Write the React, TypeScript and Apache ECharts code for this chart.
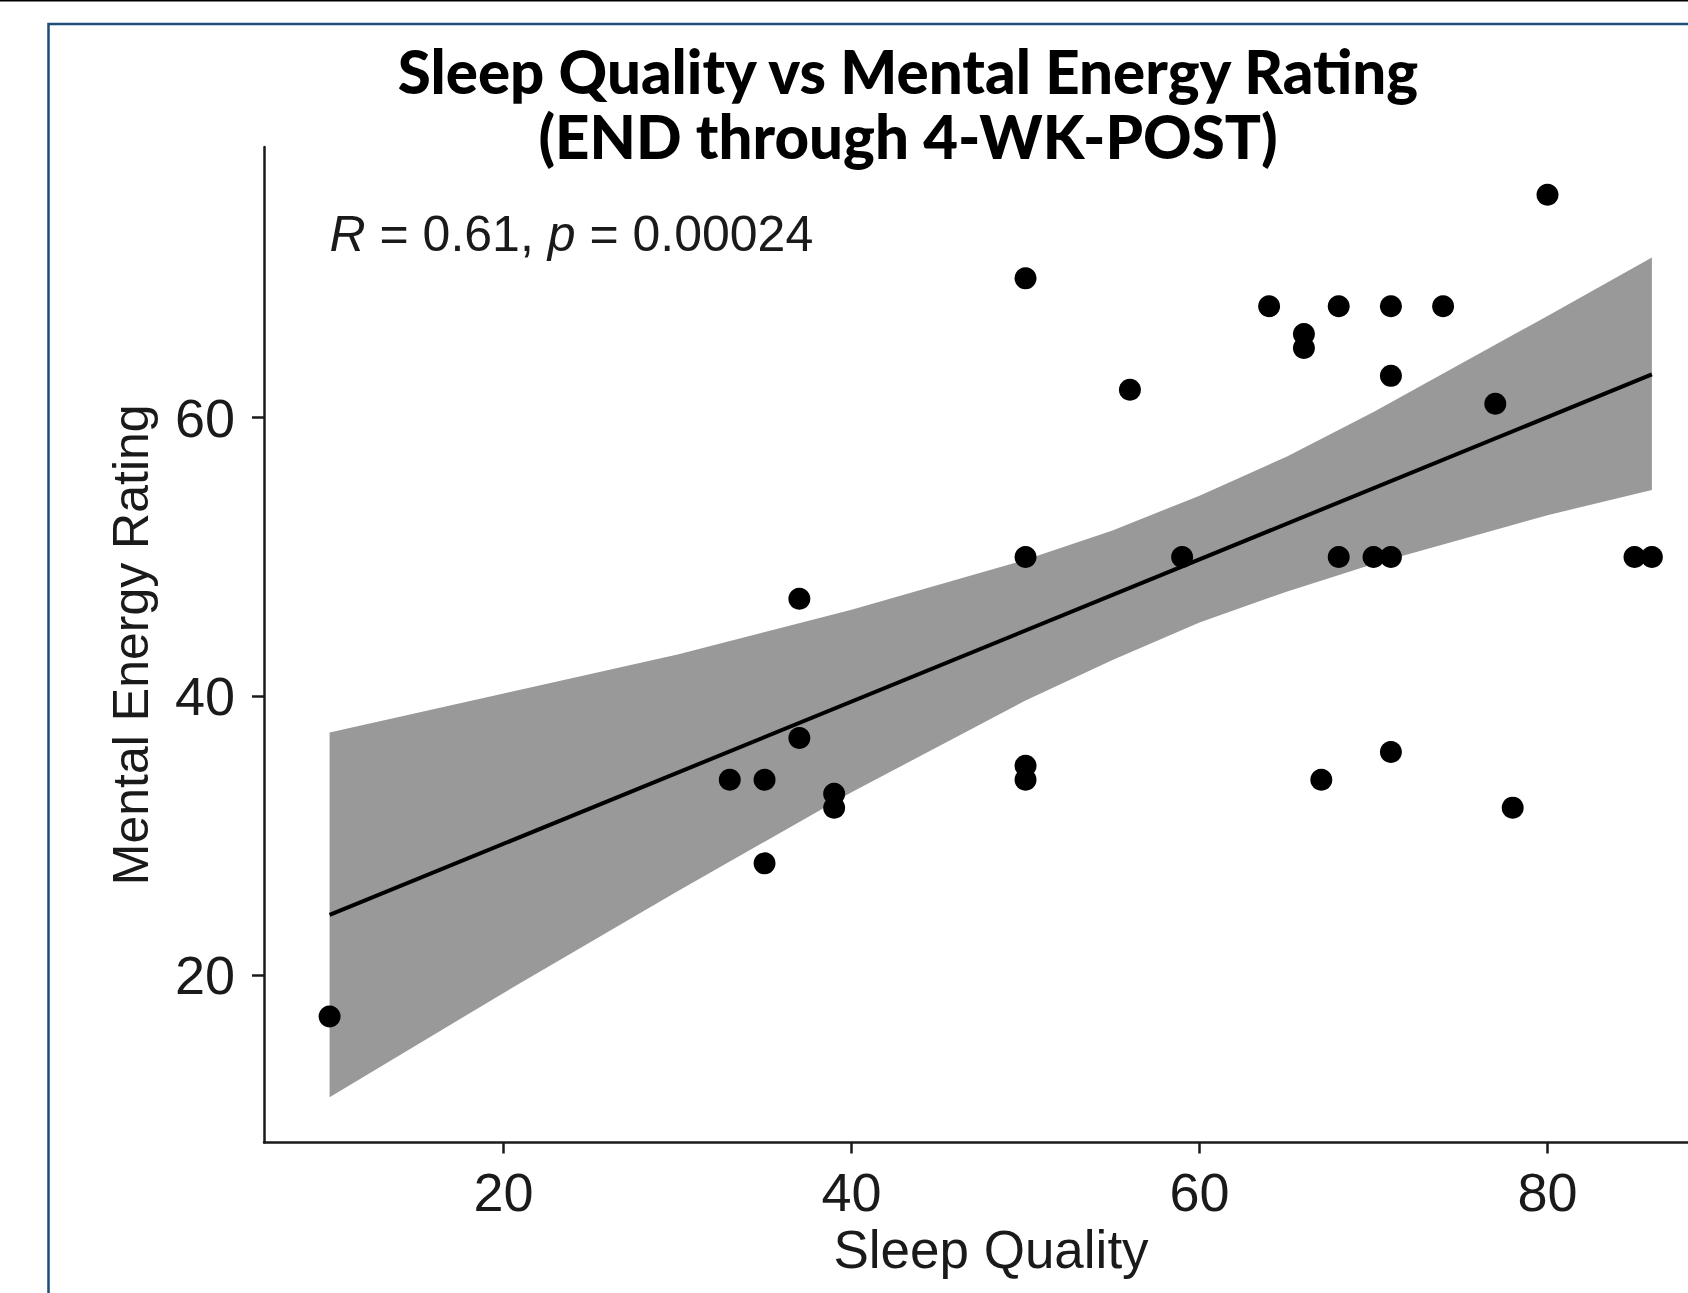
import React, { useEffect, useRef } from "react";
import * as echarts from "echarts";

// Scatter points (Sleep Quality, Mental Energy Rating)
const sleepQuality = [10, 33, 35, 35, 37, 37, 39, 39, 50, 50, 50, 50, 56, 59, 64, 66, 66, 67, 68, 68, 70, 71, 71, 71, 71, 74, 77, 78, 80, 85, 86];
const mentalEnergy = [17, 34, 34, 28, 37, 47, 33, 32, 70, 50, 35, 34, 62, 50, 68, 66, 65, 34, 68, 50, 50, 68, 63, 50, 36, 68, 61, 32, 76, 50, 50];

// Fitted line
const fitX = [10, 86];
const fitY = [24.3, 63.1];

// Confidence band
const bandX = [10, 20, 30, 40, 50, 55, 60, 65, 70, 80, 86];
const bandUpper = [37.4, 40.2, 43.0, 46.2, 49.8, 51.9, 54.4, 57.2, 60.4, 67.3, 71.5];
const bandLower = [11.2, 18.7, 26.0, 33.1, 39.7, 42.6, 45.3, 47.5, 49.5, 53.0, 54.8];

const xTicks = [20, 40, 60, 80];
const yTicks = [20, 40, 60];

const titleLine1 = "Sleep Quality vs Mental Energy Rating";
const titleLine2 = "(END through 4-WK-POST)";
const xName = "Sleep Quality";
const yName = "Mental Energy Rating";

export default function App() {
  const ref = useRef<HTMLDivElement>(null);

  useEffect(() => {
    if (!ref.current) return;
    const chart = echarts.init(ref.current, undefined, { renderer: "svg" });
    const axisFont = "'Liberation Sans', Arial, sans-serif";
    const points = sleepQuality.map((x, i) => [x, mentalEnergy[i]]);
    const fit = fitX.map((x, i) => [x, fitY[i]]);

    chart.setOption({
      animation: false,
      backgroundColor: "#ffffff",
      grid: { left: 264, right: 2, top: 147, bottom: 150.5, containLabel: false },
      xAxis: {
        type: "value",
        min: 6.23,
        max: 89.8,
        name: xName,
        nameLocation: "middle",
        nameGap: 80,
        nameTextStyle: { fontFamily: axisFont, fontSize: 53, color: "#1a1a1a" },
        axisLine: { show: true, lineStyle: { color: "#1a1a1a", width: 2.5 } },
        axisTick: { show: true, length: 11, customValues: xTicks, lineStyle: { color: "#1a1a1a", width: 2.5 } },
        axisLabel: { customValues: xTicks, margin: 22, fontFamily: axisFont, fontSize: 54, color: "#1a1a1a" },
        splitLine: { show: false },
      },
      yAxis: {
        type: "value",
        min: 7.96,
        max: 79.43,
        name: yName,
        nameLocation: "middle",
        nameGap: 108,
        nameTextStyle: { fontFamily: axisFont, fontSize: 50, color: "#1a1a1a" },
        axisLine: { show: true, lineStyle: { color: "#1a1a1a", width: 2.5 } },
        axisTick: { show: true, length: 12, customValues: yTicks, lineStyle: { color: "#1a1a1a", width: 2.5 } },
        axisLabel: { customValues: yTicks, margin: 29, fontFamily: axisFont, fontSize: 54, color: "#1a1a1a" },
        splitLine: { show: false },
      },
      graphic: [
        { type: "rect", shape: { x: 0, y: 0, width: 1720, height: 1.5 }, style: { fill: "#000000" }, z: 100 },
        {
          type: "rect",
          shape: { x: 48.5, y: 24, width: 3000, height: 3000 },
          style: { fill: "none", stroke: "#1f4e79", lineWidth: 2.5 },
          z: 100,
        },
        {
          type: "text",
          x: 908,
          y: 71,
          style: {
            text: titleLine1,
            fontFamily: "Lato, 'Open Sans', sans-serif",
            fontWeight: 900,
            fontSize: 60,
            fill: "#000000",
            align: "center",
            verticalAlign: "middle",
          },
          z: 100,
        },
        {
          type: "text",
          x: 908,
          y: 136,
          style: {
            text: titleLine2,
            fontFamily: "Lato, 'Open Sans', sans-serif",
            fontWeight: 900,
            fontSize: 60,
            fill: "#000000",
            align: "center",
            verticalAlign: "middle",
          },
          z: 100,
        },
        {
          type: "text",
          x: 329.5,
          y: 234,
          style: {
            text: "{i|R} = 0.61, {i|p} = 0.00024",
            fontFamily: axisFont,
            fontSize: 50,
            fill: "#1a1a1a",
            align: "left",
            verticalAlign: "middle",
            rich: {
              i: { fontStyle: "italic", fontFamily: axisFont, fontSize: 50, fill: "#1a1a1a" },
            },
          },
          z: 100,
        },
      ],
      series: [
        {
          type: "custom",
          z: 1,
          silent: true,
          data: [[bandX[0], bandLower[0]]],
          renderItem: (_params: any, api: any) => {
            const pts: number[][] = [];
            for (let i = 0; i < bandX.length; i++) pts.push(api.coord([bandX[i], bandUpper[i]]));
            for (let i = bandX.length - 1; i >= 0; i--) pts.push(api.coord([bandX[i], bandLower[i]]));
            return { type: "polygon", shape: { points: pts }, style: { fill: "#999999" } };
          },
        },
        {
          type: "line",
          z: 2,
          data: fit,
          showSymbol: false,
          symbol: "none",
          lineStyle: { color: "#000000", width: 4 },
          silent: true,
        },
        {
          type: "scatter",
          z: 3,
          data: points,
          symbol: "circle",
          symbolSize: 22,
          itemStyle: { color: "#000000", opacity: 1 },
        },
      ],
    });
    return () => chart.dispose();
  }, []);

  return (
    <div
      style={{
        position: "absolute",
        left: 0,
        top: 0,
        width: 1688,
        height: 1293,
        overflow: "hidden",
        background: "#ffffff",
      }}
    >
      <div ref={ref} style={{ width: 1720, height: 1293 }} />
    </div>
  );
}
